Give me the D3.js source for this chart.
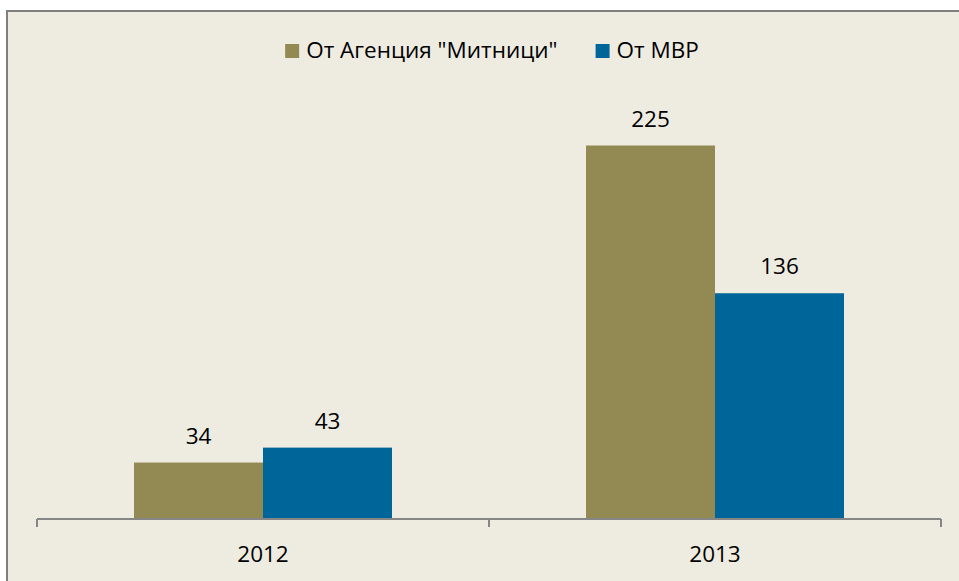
<!DOCTYPE html>
<html><head><meta charset="utf-8">
<script src="https://cdn.jsdelivr.net/npm/d3@7"></script>
<style>body{margin:0;background:#fff}svg{display:block}text{font-family:"Open Sans",sans-serif;fill:#000}</style>
</head><body><svg id="c" width="959" height="581"></svg>
<script>
const categories = ["2012", "2013"];
const seriesNames = ["От Агенция \"Митници\"", "От МВР"];
const customsValues = [34, 225];
const mvrValues = [43, 136];
const seriesColors = ["#938953", "#006699"];

const svg = d3.select("#c");
svg.append("rect").attr("x", 7).attr("y", 11).attr("width", 1000).attr("height", 700)
  .attr("fill", "#EEECE1").attr("stroke", "#7f7f7f").attr("stroke-width", 2);

const x0 = d3.scaleBand().domain(categories).range([37, 941]).paddingInner(0).paddingOuter(0);
const x1 = d3.scaleBand().domain(seriesNames).range([0, x0.bandwidth()]).paddingOuter(0.752).paddingInner(0);
const y = d3.scaleLinear().domain([0, 250]).range([519, 104]);

const series = [customsValues, mvrValues];
const data = [];
categories.forEach((c, i) => series.forEach((s, j) => data.push({c, name: seriesNames[j], v: s[i], color: seriesColors[j]})));

const g = svg.append("g");
g.selectAll("rect.bar").data(data).enter().append("rect").attr("class", "bar")
  .attr("x", d => x0(d.c) + x1(d.name)).attr("width", x1.bandwidth())
  .attr("y", d => y(d.v)).attr("height", d => y(0) - y(d.v)).attr("fill", d => d.color);

g.selectAll("text.val").data(data).enter().append("text").attr("class", "val")
  .attr("x", d => x0(d.c) + x1(d.name) + x1.bandwidth() / 2).attr("y", d => y(d.v) - 19)
  .attr("text-anchor", "middle").style("font-size", "22.5px").text(d => d.v);

// axis
const axis = d3.axisBottom(x0).tickSize(0).tickPadding(0);
const ag = svg.append("g").attr("transform", `translate(0,${y(0)})`).call(axis);
ag.select(".domain").remove();
ag.selectAll("text").attr("y", 43).attr("dy", null).style("font-size", "22.5px").style("font-family", "'Open Sans',sans-serif").attr("fill", "#000");
svg.append("line").attr("x1", 37).attr("x2", 941).attr("y1", y(0)).attr("y2", y(0)).attr("stroke", "#868686").attr("stroke-width", 2);
const tickXs = [x0.range()[0], ...categories.slice(1).map(c => x0(c)), x0.range()[1]];
svg.selectAll("line.tk").data(tickXs).enter().append("line").attr("class", "tk")
  .attr("x1", d => d).attr("x2", d => d).attr("y1", y(0)).attr("y2", y(0) + 8)
  .attr("stroke", "#868686").attr("stroke-width", 2);

// legend
const lg = svg.append("g");
const items = lg.selectAll("g").data(seriesNames).enter().append("g");
items.append("rect").attr("width", 14).attr("height", 14).attr("y", 44).attr("fill", (d, i) => seriesColors[i]);
items.append("text").attr("x", 21).attr("y", 58).style("font-size", "22.5px").text(d => d);
let xpos = 0;
items.each(function () {
  d3.select(this).attr("transform", `translate(${xpos},0)`);
  xpos += this.getBBox().width + 38;
});
const total = xpos - 38;
lg.attr("transform", `translate(${492 - total / 2},0)`);
</script></body></html>
